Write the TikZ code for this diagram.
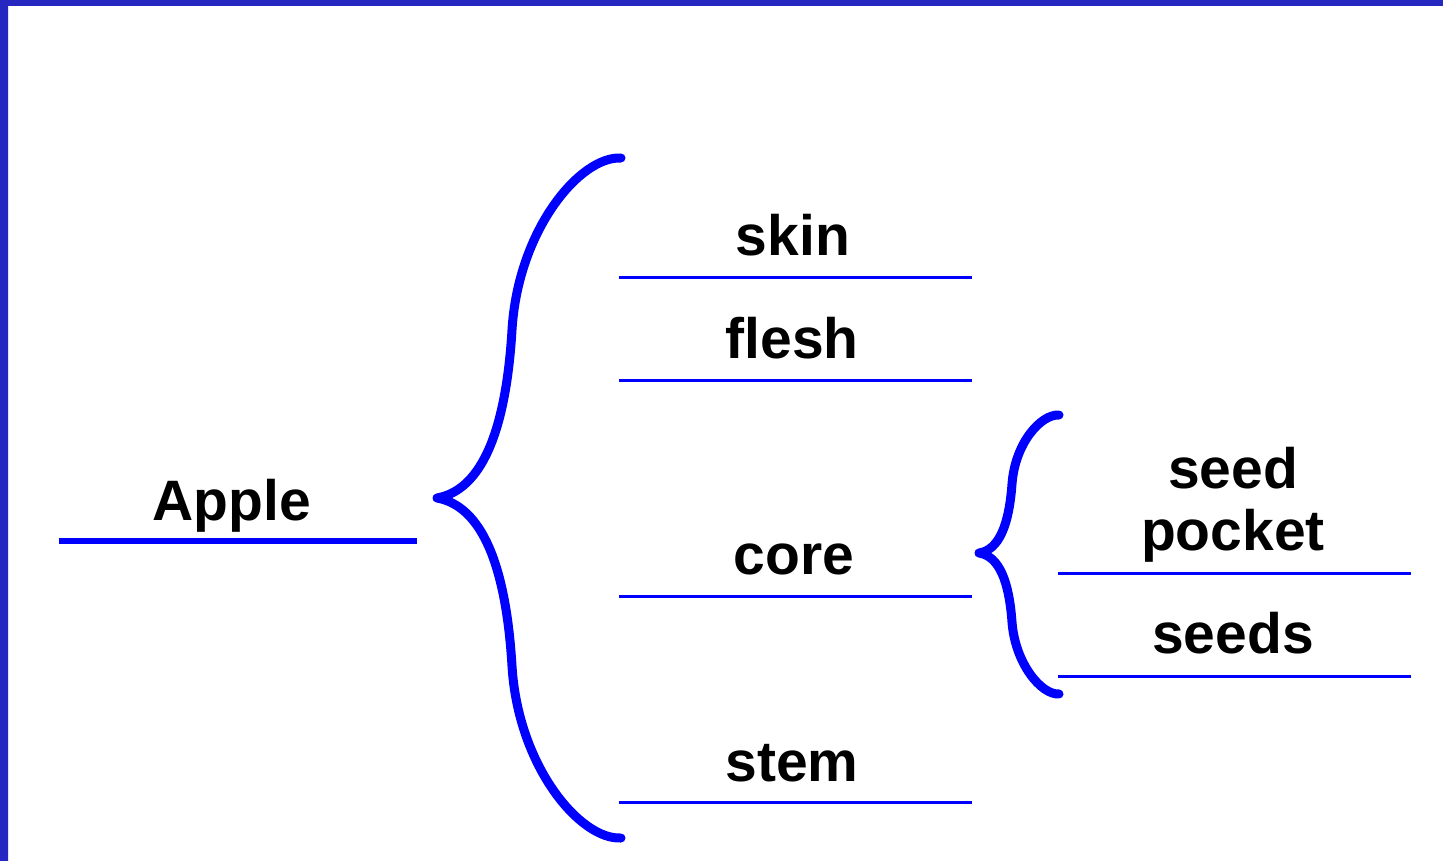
\documentclass[tikz,border=0pt]{standalone}
\usepackage{fontspec}
\setmainfont{Liberation Sans}
\definecolor{frameblue}{RGB}{38,38,192}
\definecolor{framelight}{RGB}{44,44,222}
\definecolor{braceblue}{RGB}{0,0,255}
\tikzset{
  label/.style={font=\fontsize{57}{62}\selectfont\bfseries, anchor=base, inner sep=0pt, align=center},
  rule/.style={braceblue, line width=3pt},
  curly/.style={braceblue, line width=9pt, line cap=round, line join=round}
}
\begin{document}
\begin{tikzpicture}[x=1pt, y=-1pt]
    \useasboundingbox (0, 0) rectangle (1443, 861);
    \fill [white] (0, 0) rectangle (1443, 861);
    % frame
    \fill [frameblue] (0, 0) rectangle (1443, 6);
    \shade [top color=frameblue, middle color=framelight, bottom color=frameblue] (0, 0) rectangle (8, 861);
    % labels
    \node [label] (apple) at (232, 520) {Apple};
    \node [label] (skin) at (793, 255) {skin};
    \node [label] (flesh) at (792, 358) {flesh};
    \node [label] (core) at (794, 574) {core};
    \node [label] (stem) at (792, 781) {stem};
    \node [label] (pocket) at (1233, 550) {seed\\pocket};
    \node [label] (seeds) at (1233, 653) {seeds};
    % lines under the labels
    \draw [braceblue, line width=6pt] (59, 541) -- (417, 541);
    \draw [rule] (619, 277) -- (972, 277);
    \draw [rule] (619, 380) -- (972, 380);
    \draw [rule] (619, 596) -- (972, 596);
    \draw [rule] (619, 802) -- (972, 802);
    \draw [rule] (1058, 573) -- (1411, 573);
    \draw [rule] (1058, 676) -- (1411, 676);
    % big brace
    \coordinate (bigtop) at (621, 158);
    \coordinate (bigup) at (512, 330);
    \coordinate (bigtip) at (437, 498);
    \coordinate (biglow) at (512, 666);
    \coordinate (bigbot) at (621, 838);
    \draw [curly] (bigtop) .. controls +(-41, -2) and +(6, -100) .. (bigup)
      .. controls +(-6, 100) and +(45, -8) .. (bigtip)
      .. controls +(45, 8) and +(-6, -100) .. (biglow)
      .. controls +(6, 100) and +(-41, 2) .. (bigbot);
    % small brace
    \coordinate (smalltop) at (1059, 415);
    \coordinate (smallup) at (1012, 484);
    \coordinate (smalltip) at (979, 553);
    \coordinate (smalllow) at (1012, 622);
    \coordinate (smallbot) at (1059, 694);
    \draw [curly] (smalltop) .. controls +(-18, -1) and +(3, -41) .. (smallup)
      .. controls +(-3, 41) and +(20, -3) .. (smalltip)
      .. controls +(20, 3) and +(-3, -41) .. (smalllow)
      .. controls +(3, 41) and +(-18, 1) .. (smallbot);
  \end{tikzpicture}
\end{document}
